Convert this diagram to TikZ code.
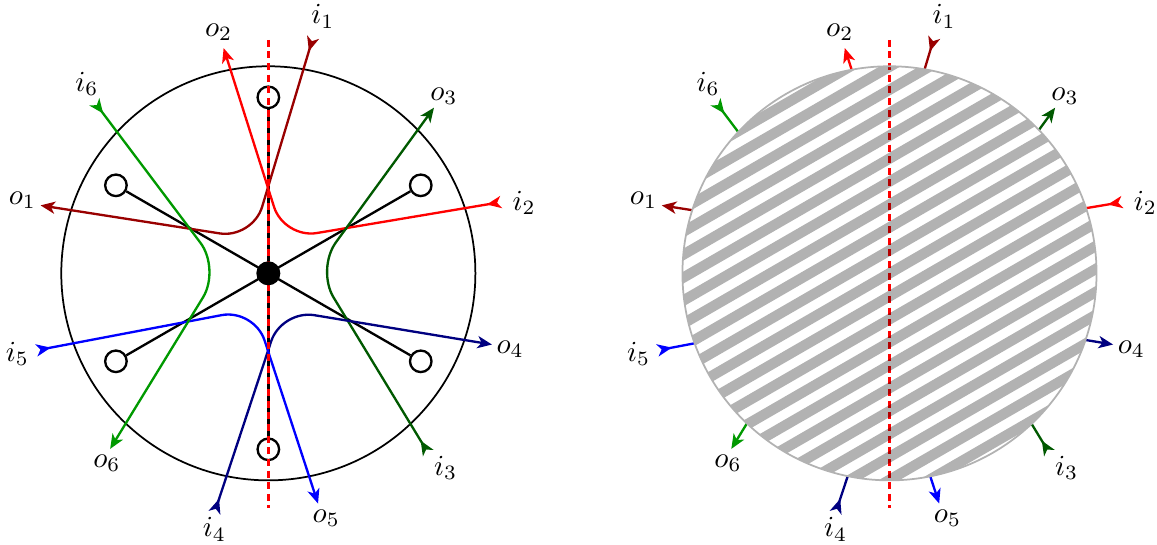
\documentclass[tikz,border=0pt]{standalone}
\usetikzlibrary{arrows.meta}
\colorlet{darkred}{red!60!black}
\colorlet{darkgreen}{green!35!black}
\colorlet{midgreen}{green!60!black}
\colorlet{navy}{blue!50!black}
\tikzset{
    rim/.style={semithick},
    spoke/.style={thick},
    hole/.style={circle, draw, thick, fill=white, minimum size=0.26cm, inner sep=0pt},
    hub/.style={circle, fill=black, minimum size=0.29cm, inner sep=0pt},
    ray/.style={thick, rounded corners=0.4cm,
        arrows={{Stealth[reversed,length=5pt,width=4.2pt,inset=1.4pt]}-{Stealth[length=5pt,width=4.2pt,inset=1.4pt]}}},
    symline/.style={red, very thick, dash pattern=on 2.4pt off 1.6pt},
    port/.style={inner sep=1pt},
    hatch/.style={line width=0.125cm, draw opacity=0.3}
}

\begin{document}
\begin{tikzpicture}
    \useasboundingbox (-3.24,-3.27) rectangle (10.73,3.30);

    % ports, bends and labels, once for each copy
    \foreach \p/\dx in {L/0, R/7.5}{
        \begin{scope}[xshift=\dx cm]
            \coordinate (\p c) at (0,0);
            \coordinate (\p top) at (0,2.82);
            \coordinate (\p bot) at (0,-2.83);
            \coordinate (\p i1) at (0.54,2.85);   \coordinate (\p k1) at (-0.19,0.42);  \coordinate (\p o1) at (-2.75,0.82);
            \coordinate (\p i2) at (2.81,0.86);   \coordinate (\p k2) at (0.19,0.42);   \coordinate (\p o2) at (-0.54,2.72);
            \coordinate (\p i3) at (1.93,-2.17);  \coordinate (\p k3) at (0.58,0.05);   \coordinate (\p o3) at (2.00,2.00);
            \coordinate (\p i4) at (-0.65,-2.89); \coordinate (\p k4) at (0.16,-0.44);  \coordinate (\p o4) at (2.70,-0.86);
            \coordinate (\p i5) at (-2.80,-0.93); \coordinate (\p k5) at (-0.17,-0.43); \coordinate (\p o5) at (0.60,-2.78);
            \coordinate (\p i6) at (-2.10,2.07);  \coordinate (\p k6) at (-0.58,0.05);  \coordinate (\p o6) at (-1.91,-2.12);
            \node[port] (\p li1) at (0.66,3.10) {$i_1$};
            \node[port] (\p li2) at (3.09,0.85) {$i_2$};
            \node[port] (\p li3) at (2.14,-2.35) {$i_3$};
            \node[port] (\p li4) at (-0.65,-3.09) {$i_4$};
            \node[port] (\p li5) at (-3.03,-0.97) {$i_5$};
            \node[port] (\p li6) at (-2.19,2.29) {$i_6$};
            \node[port] (\p lo1) at (-2.97,0.88) {$o_1$};
            \node[port] (\p lo2) at (-0.60,2.91) {$o_2$};
            \node[port] (\p lo3) at (2.12,2.14) {$o_3$};
            \node[port] (\p lo4) at (2.92,-0.92) {$o_4$};
            \node[port] (\p lo5) at (0.70,-2.96) {$o_5$};
            \node[port] (\p lo6) at (-1.95,-2.29) {$o_6$};
        \end{scope}
    }

    % left: junction with six arms
    \draw[rim] (Lc) circle (2.5);
    \foreach \a in {30,90,...,330}
        \node[hole] (h\a) at (\a:2.125) {};
    \foreach \a [evaluate=\a as \b using int(\a+180)] in {30,90,150}
        \draw[spoke] (h\a) -- (h\b);

    % the six paths, on both sides
    \foreach \p in {L,R}{
        \foreach \n/\c in {1/darkred, 2/red, 3/darkgreen, 4/navy, 5/blue, 6/midgreen}
            \draw[ray, \c] (\p i\n) -- (\p k\n) -- (\p o\n);
    }
    \draw[symline] (Ltop) -- (Lbot);
    \node[hub] (hub) at (Lc) {};

    % right: black box
    \fill[white] (Rc) circle (2.5);
    \draw[symline] (Rtop) -- (Rbot);
    \begin{scope}[shift={(Rc)}, rotate=30]
        \clip (0,0) circle (2.5);
        \foreach \k in {-13,...,13}
            \draw[hatch] (-3,\k*0.24) -- (3,\k*0.24);
    \end{scope}
    \draw[rim, black!30] (Rc) circle (2.5);
\end{tikzpicture}
\end{document}
